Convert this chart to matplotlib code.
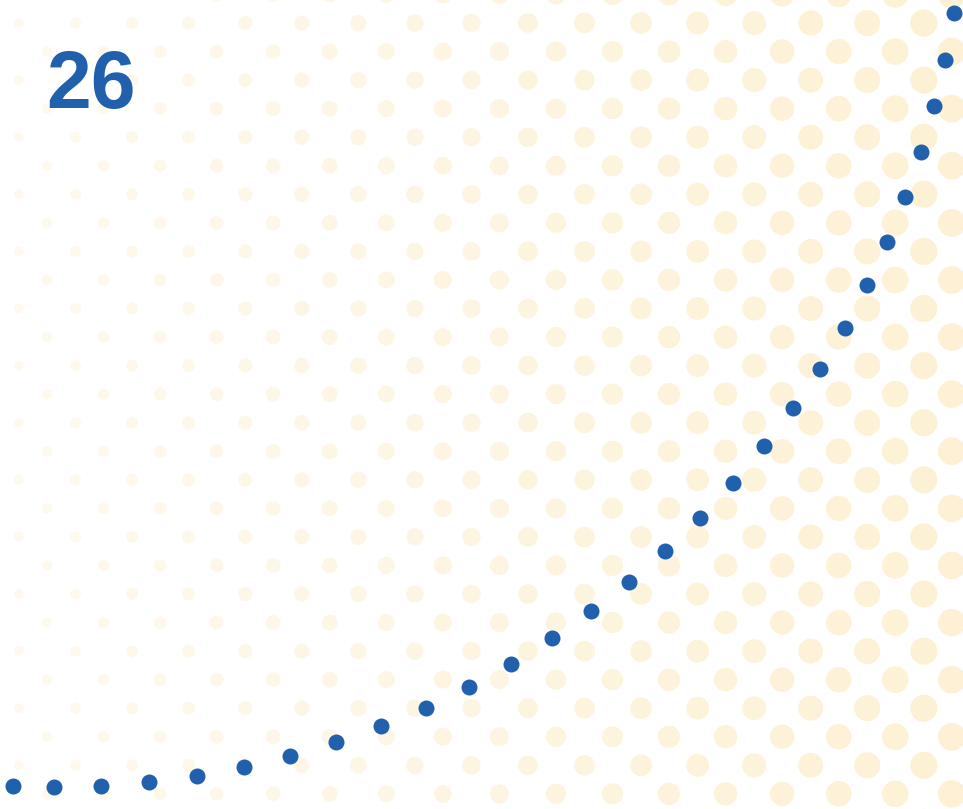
import matplotlib.pyplot as plt
import numpy as np

# blue dotted curve (pixel-like units, y measured upward from bottom)
curve_x = [13, 54, 101, 149, 197, 244, 290, 336, 381, 426, 469, 511, 552, 591,
           629, 665, 700, 733, 764, 793, 820, 845, 867, 887, 905, 921, 934, 945, 954]
curve_y = [23, 22, 23, 27, 33, 42, 53, 67, 83, 101, 122, 145, 171, 198,
           227, 258, 291, 326, 363, 401, 440, 481, 524, 567, 612, 657, 703, 749, 796]
label = "26"

W, H = 963, 809
BLUE = "#2160ad"
DOT = "#fdf0d2"

fig = plt.figure(figsize=(W / 100, H / 100), dpi=100)
ax = fig.add_axes([0, 0, 1, 1])
ax.set_xlim(0, W)
ax.set_ylim(0, H)
ax.axis("off")

# halftone background, dots grow toward the right
px_to_pt = 72 / 100
dx, dy = 56.55, 28.55
bx, by, bs, ba = [], [], [], []
for k in range(-1, 31):
    yy = H - (23 + dy * k)
    x0 = 19 if k % 2 == 0 else 47
    for j in range(-1, 19):
        xx = x0 + dx * j
        r = 4.8 + 0.0095 * xx
        bx.append(xx)
        by.append(yy)
        bs.append((2 * r * px_to_pt) ** 2)
        ba.append(min(1.0, 0.35 + 0.6 * xx / W))
cols = np.tile(np.array(plt.matplotlib.colors.to_rgba(DOT)), (len(bx), 1))
cols[:, 3] = ba
ax.scatter(bx, by, s=bs, c=cols, linewidths=0, zorder=1)

# main curve
ax.scatter(curve_x, curve_y, s=(16 * px_to_pt) ** 2, color=BLUE,
           linewidths=0, zorder=3)

ax.text(46, H - 108, label, fontsize=58, fontweight="bold", color=BLUE,
        family=["Liberation Sans", "DejaVu Sans"], va="baseline", ha="left",
        zorder=4)

fig.savefig("out.png", dpi=100, facecolor="white")
